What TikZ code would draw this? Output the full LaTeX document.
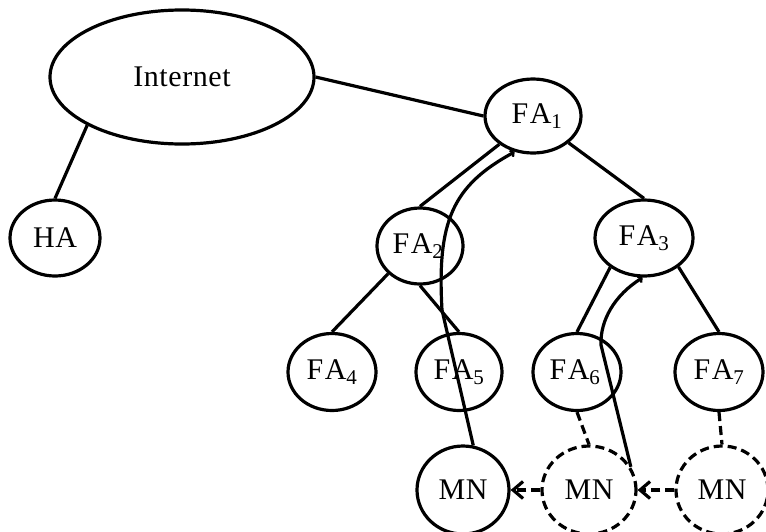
\documentclass[tikz,border=0pt]{standalone}
\usepackage{fontspec}
\setmainfont{Liberation Serif}[LetterSpace=2]
\usetikzlibrary{shapes.geometric,arrows.meta}
\begin{document}
\begin{tikzpicture}[x=1pt,y=-1pt,
  nd/.style={draw,ellipse,line width=3.2pt,inner sep=0pt,font=\fontsize{30}{32}\selectfont},
  fa/.style={nd,minimum width=88pt,minimum height=77pt},
  dnd/.style={fa,dash pattern=on 9pt off 5pt},
  ln/.style={line width=3.2pt},
  dln/.style={line width=3.2pt,dash pattern=on 9pt off 5pt},
  bigtip/.style={-{Straight Barb[length=10pt,width=17pt,line width=3.2pt]}},
  smalltip/.style={-{Straight Barb[length=2.5pt,width=7pt,line width=2.2pt]}}]
\useasboundingbox (0,0) rectangle (766,531);
\node[nd,minimum width=264pt,minimum height=134pt] (inet) at (182,77) {Internet\\[-6pt]};
\node[nd,minimum width=90pt,minimum height=76pt] (ha) at (55,238) {HA};
\node[fa,minimum width=96pt,minimum height=74pt] (fa1) at (533,116) {\hspace*{8pt}F\kern1.5pt A\textsubscript{1}};
\node[fa,minimum width=86pt,minimum height=76pt] (fa2) at (420,246) {F\kern1.5pt A\textsubscript{2}\hspace*{4pt}};
\node[fa,minimum width=98pt,minimum height=76pt] (fa3) at (644,238) {F\kern1.5pt A\textsubscript{3}};
\node[fa] (fa4) at (332,372) {F\kern1.5pt A\textsubscript{4}};
\node[fa,minimum width=86pt] (fa5) at (459,372) {\raisebox{-6pt}{F\kern1.5pt A\textsubscript{5}}};
\node[fa] (fa6) at (577,372) {\raisebox{2pt}{F\kern1.5pt A\textsubscript{6}}\hspace*{4pt}};
\node[fa] (fa7) at (719,372) {F\kern1.5pt A\textsubscript{7}};
\node[fa,minimum width=92pt,minimum height=88pt] (mn1) at (463,490) {MN};
\node[dnd,minimum width=94pt,minimum height=88pt] (mn2) at (589,490) {MN};
\node[dnd,minimum width=92pt,minimum height=88pt] (mn3) at (722,490) {MN};
\coordinate (b1) at (442,310);
\coordinate (b2) at (601,345);
\draw[ln] (inet.east) -- (fa1.west);
\draw[ln] (inet.207) -- (ha.north);
\draw[ln] (fa1.220) -- (fa2.north);
\draw[ln] (fa1.323) -- (fa3.north);
\draw[ln] (fa2.221) -- (fa4.north);
\draw[ln] (fa2.south) -- (fa5.north);
\draw[ln] (fa3.221) -- (fa6.north);
\draw[ln] (fa3.320) -- (fa7.north);
\draw[dln] (fa6.south) -- (mn2.north);
\draw[dln] (fa7.south) -- (mn3.north);
\draw[dln,bigtip] (mn2.west) -- (mn1.east);
\draw[dln,bigtip] (mn3.west) -- (mn2.east);
\draw[ln,smalltip] (mn1.77) -- (b1) .. controls (437,222) and (452,186) .. (fa1.243);
\draw[ln,smalltip] (mn2.29) -- (b2) .. controls (600,320) and (615,295) .. (fa3.268);
\end{tikzpicture}
\end{document}
